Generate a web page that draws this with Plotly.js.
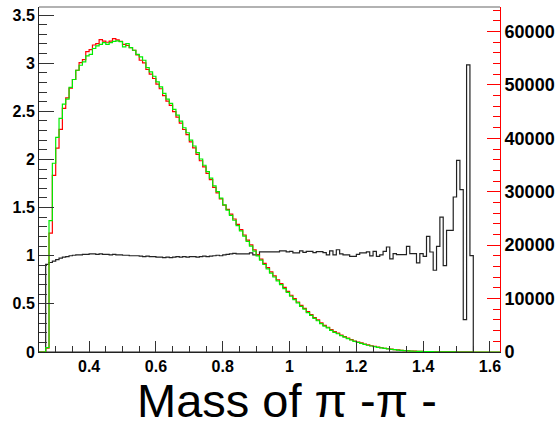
<!DOCTYPE html>
<html>
<head>
<meta charset="utf-8">
<script src="https://cdn.plot.ly/plotly-3.0.1.min.js"></script>
<style>
  html, body { margin: 0; padding: 0; background: #ffffff; }
  #chart { width: 558px; height: 423px; }
</style>
</head>
<body>
<div id="chart"></div>
<script>
// ---- data (bins of width 0.01 starting at 0.27) ----
const firstEdge = 0.27;
const binWidth = 0.01;

// black histogram: ratio, left axis
const ratioValues = [
  0.91, 0.93, 0.945, 0.96, 0.975, 0.985, 0.99, 1.0, 1.005, 1.01,
  1.01, 1.015, 1.015, 1.02, 1.02, 1.015, 1.02, 1.015, 1.015, 1.01,
  1.015, 1.01, 1.01, 1.005, 1.005, 1.0, 1.0, 1.0, 0.995, 0.99,
  0.995, 0.99, 0.99, 0.985, 0.985, 0.98, 0.985, 0.98, 0.985, 0.99,
  0.985, 0.99, 0.985, 0.99, 0.99, 0.985, 0.99, 0.995, 0.99, 0.995,
  1.0, 1.005, 1.0, 1.01, 1.015, 1.02, 1.025, 1.02,
  1.02, 1.02, 1.02, 1.03, 1.01, 1.01, 1.04, 1.04, 1.04, 1.04,
  1.04, 1.04, 1.05, 1.05, 1.04, 1.046, 1.03, 1.03, 1.05, 1.035,
  1.046, 1.046, 1.032, 1.043, 1.043, 1.032, 1.01, 1.05, 1.01, 1.062,
  1.02, 1.008, 1.008, 0.994, 0.994, 1.015, 1.029, 1.029, 1.04, 0.998,
  1.046, 0.994, 1.01, 1.046, 1.091, 0.967, 1.022, 1.011, 1.011, 1.011,
  1.098, 1.022, 1.022, 0.925, 1.022, 0.994, 1.201, 1.039, 0.849, 1.098,
  1.402, 0.897, 1.264, 1.264, 1.61, 1.99, 1.686, 0.337, 2.983, 1.001
];

// red histogram: counts, right axis
const redCounts = [
  700, 22270, 33080, 38180, 41670, 45590, 47570, 49390, 51010, 52740,
  54180, 54740, 56230, 56610, 57470, 57730, 58480, 58210, 57980, 58210,
  58660, 58410, 58160, 57600, 57370, 56990, 56480, 55600, 54610, 54110,
  52880, 52000, 51200, 50150, 49280, 48000, 46950, 46180, 45000, 43980,
  42850, 41650, 40680, 39320, 38200, 36980, 35800, 34640, 33450, 32250,
  30800, 29800, 28650, 27500, 26700, 25800, 24900, 23900, 22900, 21900,
  20950, 20050, 19100, 18200, 17400, 16600, 15780, 14980, 14250, 13520,
  12800, 12080, 11350, 10620, 9990, 9360, 8720, 8180, 7550, 7000,
  6450, 6000, 5450, 5000, 4630, 4180, 3810, 3530, 3170, 2890,
  2610, 2330, 2060, 1870, 1690, 1500, 1320, 1170, 1040, 900,
  800, 700, 610, 530, 450, 380, 320, 270, 230, 190,
  150, 130, 110, 90, 80, 60, 50, 40, 30, 20,
  20, 10, 10, 0, 0, 0, 0, 0
];

// green histogram: counts, right axis
const greenCounts = [
  810, 24610, 35330, 40180, 43720, 46400, 47340, 49520, 51010, 52740,
  53680, 54310, 55420, 55730, 56810, 57290, 57600, 57920, 57600, 57920,
  58160, 58230, 58100, 57100, 57730, 56990, 56480, 55730, 55240, 54610,
  53240, 52430, 51620, 50560, 49630, 48400, 47340, 46530, 45410, 44350,
  43220, 41980, 41040, 39670, 38560, 37310, 36130, 34960, 33770, 32530,
  31090, 30020, 28800, 27540, 26550, 25560, 24660, 23670, 22680, 21690,
  20700, 19800, 18900, 18000, 17190, 16380, 15570, 14760, 14040, 13320,
  12600, 11880, 11160, 10440, 9810, 9180, 8550, 8010, 7380, 6840,
  6300, 5850, 5310, 4860, 4500, 4050, 3690, 3420, 3060, 2790,
  2520, 2250, 1980, 1800, 1620, 1440, 1260, 1120, 990, 860,
  760, 670, 580, 500, 430, 360, 310, 250, 220, 180,
  140, 130, 110, 90, 70, 60, 50, 40, 30, 20,
  20, 10, 10, 0, 0, 0, 0, 0
];

const xTitle = "Mass of \u03c0 -\u03c0 -";
const xRange = [0.25, 1.63];
const yLeftRange = [0, 3.584];
const yRightRange = [0, 64580];

// ---- build step outlines (ROOT style histogram) ----
function stepLine(values, xmin, xmax) {
  const xs = [xmin, firstEdge];
  const ys = [0, 0];
  for (let i = 0; i < values.length; i++) {
    xs.push(firstEdge + i * binWidth);
    ys.push(values[i]);
  }
  const lastEdge = firstEdge + values.length * binWidth;
  xs.push(lastEdge); ys.push(values[values.length - 1]);
  xs.push(lastEdge); ys.push(0);
  xs.push(xmax); ys.push(0);
  return { x: xs, y: ys };
}

const blk = stepLine(ratioValues, xRange[0], xRange[0] + 0.0001);
const red = stepLine(redCounts, xRange[0], xRange[1]);
const grn = stepLine(greenCounts, xRange[0], xRange[1]);

const traces = [
  { x: blk.x, y: blk.y, yaxis: 'y', mode: 'lines', line: { shape: 'hv', color: '#222222', width: 1.2 }, hoverinfo: 'skip' },
  { x: red.x, y: red.y, yaxis: 'y2', mode: 'lines', line: { shape: 'hv', color: '#ff0000', width: 1.2 }, hoverinfo: 'skip' },
  { x: grn.x, y: grn.y, yaxis: 'y2', mode: 'lines', line: { shape: 'hv', color: '#00ee00', width: 1.2 }, hoverinfo: 'skip' }
];

const fam = 'Liberation Sans, Arial, sans-serif';
const tickFont = { family: fam, size: 16, color: '#000', weight: 'bold' };

const layout = {
  width: 558, height: 423,
  margin: { l: 39, r: 58, t: 7, b: 70.5, pad: 0 },
  paper_bgcolor: '#ffffff', plot_bgcolor: '#ffffff',
  showlegend: false,
  font: { family: fam, color: '#000' },
  xaxis: {
    range: xRange, showgrid: false, zeroline: false,
    showline: true, linecolor: '#222', linewidth: 1,
    ticks: 'inside', ticklen: 11, tickcolor: '#333', tickwidth: 1,
    dtick: 0.2, tick0: 0,
    minor: { ticks: 'inside', ticklen: 6, dtick: 0.05, tickcolor: '#333', showgrid: false },
    tickfont: tickFont,
    automargin: false
  },
  yaxis: {
    range: yLeftRange, showgrid: false, zeroline: false,
    showline: true, linecolor: '#222', linewidth: 1,
    ticks: 'inside', ticklen: 15, tickcolor: '#333', tickwidth: 1,
    dtick: 0.5, tick0: 0,
    minor: { ticks: 'inside', ticklen: 8, dtick: 0.1, tickcolor: '#333', showgrid: false },
    tickfont: tickFont, automargin: false
  },
  yaxis2: {
    range: yRightRange, overlaying: 'y', side: 'right',
    showgrid: false, zeroline: false,
    showline: true, linecolor: '#ff0000', linewidth: 1,
    ticks: 'inside', ticklen: 13, tickcolor: '#ff0000', tickwidth: 1,
    dtick: 10000, tick0: 0, tickformat: 'd',
    minor: { ticks: 'inside', ticklen: 7, dtick: 2000, tickcolor: '#ff0000', showgrid: false },
    tickfont: { family: fam, size: 18, color: '#000', weight: 'bold' },
    automargin: false
  },
  annotations: [
    { text: xTitle, xref: 'paper', yref: 'paper', x: 0.538, y: -0.1395, xanchor: 'center', yanchor: 'middle',
      showarrow: false, font: { family: fam, size: 47, color: '#000' } }
  ],
  shapes: [
    { type: 'line', xref: 'paper', yref: 'paper', x0: 0, x1: 1, y0: 1, y1: 1, line: { color: '#999999', width: 1.5 } }
  ]
};

Plotly.newPlot('chart', traces, layout, { staticPlot: true, displayModeBar: false });
</script>
</body>
</html>
